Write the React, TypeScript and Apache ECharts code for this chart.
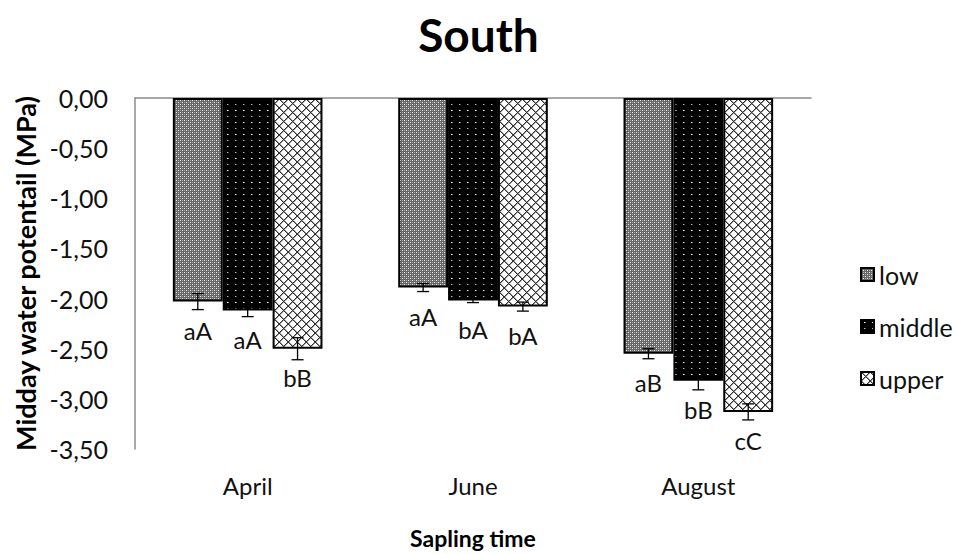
import React, { useEffect, useRef } from "react";
import * as echarts from "echarts";

const categories = ["April", "June", "August"];
const seriesNames = ["low", "middle", "upper"];
const lowValues = [-2.03, -1.89, -2.55];
const middleValues = [-2.12, -2.02, -2.82];
const upperValues = [-2.5, -2.08, -3.13];
const lowErrors = [0.08, 0.04, 0.05];
const middleErrors = [0.06, 0.02, 0.09];
const upperErrors = [0.11, 0.045, 0.08];
const lowLetters = ["aA", "aA", "aB"];
const middleLetters = ["aA", "bA", "bB"];
const upperLetters = ["bB", "bA", "cC"];
const yMin = -3.5;
const yMax = 0;
const yInterval = 0.5;

const FONT = "Lato, 'Open Sans', sans-serif";
const CAT_GAP = 0.336;

function makeCanvas(w: number, h: number, draw: (ctx: CanvasRenderingContext2D) => void) {
  const c = document.createElement("canvas");
  c.width = w;
  c.height = h;
  const ctx = c.getContext("2d")!;
  draw(ctx);
  return c;
}

function px(ctx: CanvasRenderingContext2D, x: number, y: number, color: string) {
  ctx.fillStyle = color;
  ctx.fillRect(x, y, 1, 1);
}

function lowPattern() {
  const c = makeCanvas(4, 4, (ctx) => {
    ctx.fillStyle = "#666666";
    ctx.fillRect(0, 0, 4, 4);
    px(ctx, 0, 0, "#f0f0f0");
    px(ctx, 2, 2, "#f0f0f0");
    px(ctx, 2, 0, "#a8a8a8");
    px(ctx, 0, 2, "#a8a8a8");
  });
  return { image: c, repeat: "repeat", imageWidth: 4, imageHeight: 4 };
}

function middlePattern() {
  const c = makeCanvas(8, 12, (ctx) => {
    ctx.fillStyle = "#000000";
    ctx.fillRect(0, 0, 8, 12);
    px(ctx, 3, 2, "#ffffff");
    px(ctx, 4, 2, "#888888");
    px(ctx, 3, 8, "#bbbbbb");
    px(ctx, 4, 8, "#555555");
  });
  return { image: c, repeat: "repeat", imageWidth: 8, imageHeight: 12 };
}

function upperPattern() {
  const n = 9;
  const c = makeCanvas(n, n, (ctx) => {
    ctx.fillStyle = "#ffffff";
    ctx.fillRect(0, 0, n, n);
    for (let x = 0; x < n; x++) {
      for (let y = 0; y < n; y++) {
        const d1 = (((x - y) % n) + n) % n;
        const d2 = (x + y) % n;
        if (d1 === 0 || d2 === n - 1) px(ctx, x, y, "#303030");
        else if (d1 === 1 || d2 === 0) px(ctx, x, y, "#9a9a9a");
      }
    }
  });
  return { image: c, repeat: "repeat", imageWidth: n, imageHeight: n };
}

export default function App() {
  const ref = useRef<HTMLDivElement>(null);

  useEffect(() => {
    document.body.style.margin = "0";
    const chart = echarts.init(ref.current!, null, { renderer: "svg" });
    const patterns = [lowPattern(), middlePattern(), upperPattern()];
    const values = [lowValues, middleValues, upperValues];
    const errors = [lowErrors, middleErrors, upperErrors];
    const letters = [lowLetters, middleLetters, upperLetters];

    const barSeries = seriesNames.map((name, si) => ({
      name,
      type: "bar",
      xAxisIndex: 0,
      barGap: "0%",
      barCategoryGap: CAT_GAP * 100 + "%",
      data: values[si].map((v, i) => ({
        value: v,
        label: { formatter: letters[si][i] },
      })),
      itemStyle: {
        color: patterns[si],
        borderColor: "#000",
        borderWidth: 2,
      },
      label: {
        show: true,
        position: "bottom",
        distance: 17,
        fontFamily: FONT,
        fontSize: 24,
        color: "#111",
      },
      z: 2,
    }));

    const errData: number[][] = [];
    seriesNames.forEach((_, si) => {
      values[si].forEach((v, i) => errData.push([i, v, errors[si][i], si]));
    });

    const errSeries = {
      type: "custom",
      xAxisIndex: 0,
      z: 5,
      silent: true,
      data: errData,
      renderItem: (params: any, api: any) => {
        const ci = api.value(0);
        const v = api.value(1);
        const e = api.value(2);
        const si = api.value(3);
        const band = api.size([1, 0])[0];
        const bw = (band * (1 - CAT_GAP)) / 3;
        const x = api.coord([ci, v])[0] + (si - 1) * bw;
        const y1 = api.coord([ci, v + e])[1];
        const y2 = api.coord([ci, v - e])[1];
        const h = 6;
        const style = { stroke: "#000", lineWidth: 1.3 };
        return {
          type: "group",
          children: [
            { type: "line", shape: { x1: x, y1, x2: x, y2 }, style },
            { type: "line", shape: { x1: x - h, y1, x2: x + h, y2: y1 }, style },
            { type: "line", shape: { x1: x - h, y1: y2, x2: x + h, y2 }, style },
          ],
        };
      },
    };

    chart.setOption({
      animation: false,
      backgroundColor: "#fff",
      title: {
        text: "South",
        left: "center",
        top: 6,
        textStyle: { fontFamily: FONT, fontWeight: "bold", fontSize: 46, color: "#000" },
      },
      legend: {
        data: seriesNames,
        orient: "vertical",
        left: 855,
        top: 257,
        itemGap: 27,
        itemWidth: 13,
        itemHeight: 13,
        icon: "rect",
        textStyle: { fontFamily: FONT, fontSize: 25, color: "#111" },
      },
      grid: { left: 135, right: 146, top: 98, bottom: 104 },
      xAxis: [
        {
          type: "category",
          data: categories,
          position: "bottom",
          axisLine: { show: false, onZero: false },
          axisTick: { show: false },
          axisLabel: { fontFamily: FONT, fontSize: 24, color: "#111", margin: 24 },
          name: "Sapling time",
          nameLocation: "middle",
          nameGap: 77,
          nameTextStyle: { fontFamily: FONT, fontWeight: "bold", fontSize: 23, color: "#000" },
        },
        {
          type: "category",
          data: categories,
          position: "top",
          axisLine: { show: true, lineStyle: { color: "#8c8c8c", width: 1.5 } },
          axisTick: { show: false },
          axisLabel: { show: false },
        },
      ],
      yAxis: {
        type: "value",
        min: yMin,
        max: yMax,
        interval: yInterval,
        axisLine: { show: true, lineStyle: { color: "#8c8c8c", width: 1.5 } },
        axisTick: { show: false },
        splitLine: { show: false },
        axisLabel: {
          fontFamily: FONT,
          fontSize: 25,
          color: "#111",
          margin: 27,
          formatter: (v: number) => (Math.abs(v) < 1e-9 ? 0 : v).toFixed(2).replace(".", ","),
        },
        name: "Midday water potentail (MPa)",
        nameLocation: "middle",
        nameGap: 90,
        nameTextStyle: { fontFamily: FONT, fontWeight: "bold", fontSize: 27, color: "#000" },
      },
      series: [...barSeries, errSeries],
    });

    return () => chart.dispose();
  }, []);

  return <div ref={ref} style={{ width: 957, height: 554 }} />;
}
